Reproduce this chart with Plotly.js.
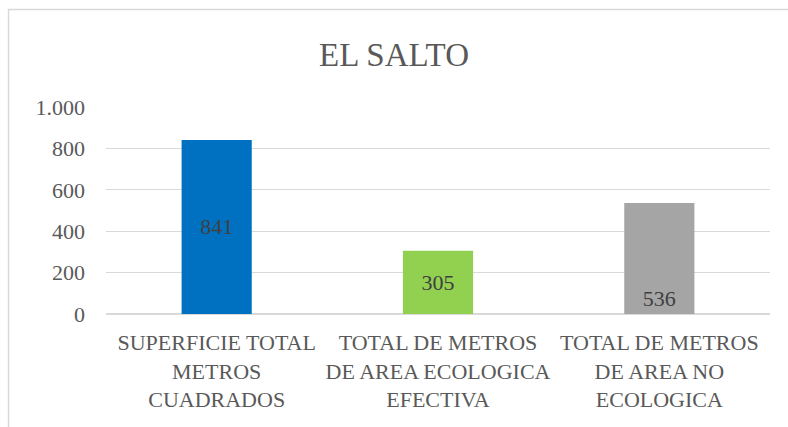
<!DOCTYPE html>
<html>
<head>
<meta charset="utf-8">
<script src="https://cdn.plot.ly/plotly-3.0.1.min.js"></script>
<style>html,body{margin:0;padding:0;background:#fff;}#chart{width:788px;height:427px;}</style>
</head>
<body>
<div id="chart"></div>
<script>
const chartTitle = "EL SALTO";
const categories = [
  "SUPERFICIE TOTAL<br>METROS<br>CUADRADOS",
  "TOTAL DE METROS<br>DE AREA ECOLOGICA<br>EFECTIVA",
  "TOTAL DE METROS<br>DE AREA NO<br>ECOLOGICA"
];
const values = [841, 305, 536];
const colors = ["#0070C0", "#92D050", "#A5A5A5"];
const labelAnchors = ["middle", "middle", "start"];
const tickValues = [0, 200, 400, 600, 800, 1000];

const FONT = "Liberation Serif, DejaVu Serif, serif";

const traces = categories.map((c, i) => ({
  type: "bar",
  x: [c],
  y: [values[i]],
  marker: {color: colors[i]},
  text: [String(values[i])],
  textposition: "inside",
  insidetextanchor: labelAnchors[i],
  textangle: 0,
  textfont: {family: FONT, size: 22, color: "#404040"},
  hoverinfo: "x+y",
  showlegend: false,
  cliponaxis: false
}));

const layout = {
  width: 788,
  height: 427,
  margin: {l: 106, r: 18, t: 107, b: 113},
  paper_bgcolor: "#ffffff",
  plot_bgcolor: "#ffffff",
  barmode: "overlay",
  bargap: 0.683,
  separators: ",.",
  font: {family: FONT, color: "#595959", size: 22},
  title: {
    text: chartTitle,
    font: {family: FONT, size: 33, color: "#595959"},
    x: 0.5, xanchor: "center",
    y: 0.873, yanchor: "middle"
  },
  xaxis: {
    type: "category",
    categoryorder: "array",
    categoryarray: categories,
    showgrid: false,
    zeroline: false,
    showline: false,
    ticks: "",
    ticklabelstandoff: 13,
    tickfont: {family: FONT, size: 22, color: "#595959"},
    automargin: false
  },
  yaxis: {
    range: [0, 1000],
    tickvals: tickValues,
    tickformat: ",d",
    separatethousands: true,
    showgrid: true,
    gridcolor: "#D9D9D9",
    gridwidth: 1.3,
    zeroline: true,
    zerolinecolor: "#D9D9D9",
    zerolinewidth: 1.3,
    showline: false,
    ticks: "",
    ticklabelstandoff: 20,
    tickfont: {family: FONT, size: 22, color: "#595959"},
    automargin: false,
    fixedrange: true
  },
  shapes: [{
    type: "rect",
    xref: "paper", yref: "paper",
    x0: -0.1468, x1: 1.2, y0: -1, y1: 1.4706,
    line: {color: "#D9D9D9", width: 1.5},
    fillcolor: "rgba(0,0,0,0)",
    layer: "below"
  }]
};

Plotly.newPlot("chart", traces, layout, {displayModeBar: false, staticPlot: true});
</script>
</body>
</html>
